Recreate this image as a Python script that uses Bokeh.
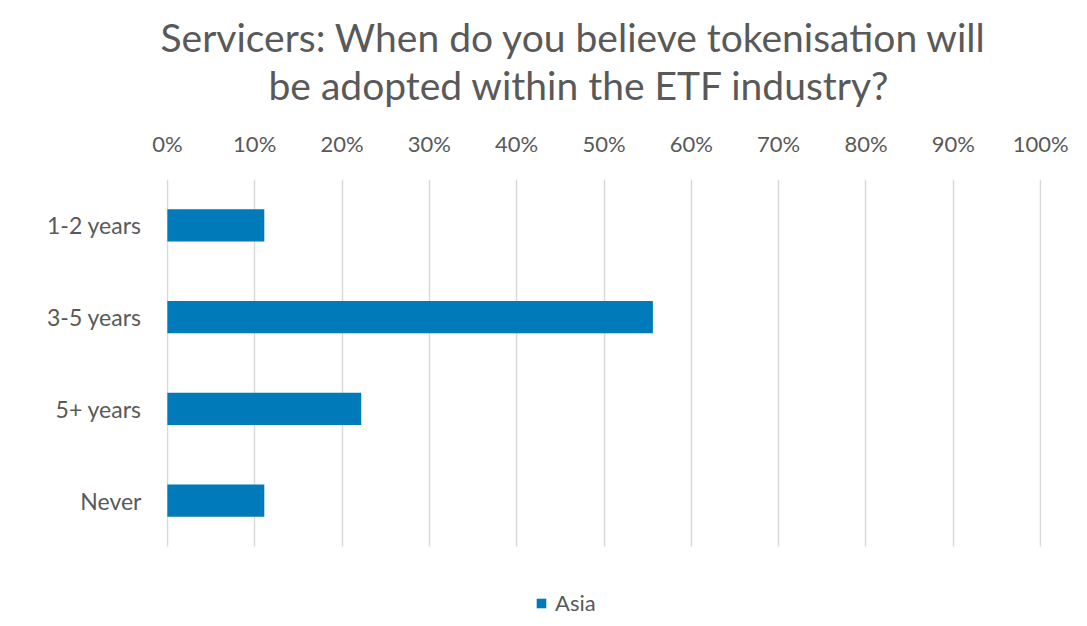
from bokeh.plotting import figure
from bokeh.models import (Range1d, NumeralTickFormatter, FixedTicker, LinearAxis,
                          Title, Legend, LegendItem, ColumnDataSource)
from bokeh.embed import file_html
from bokeh.resources import INLINE

categories = ["1-2 years", "3-5 years", "5+ years", "Never"]
asia = [0.111, 0.556, 0.222, 0.111]
series_name = "Asia"
tick_values = [i / 10 for i in range(11)]
title_lines = ["Servicers: When do you believe tokenisation will",
               "be adopted within the ETF industry?"]

FONT = "Lato"
TXT = "#595959"
BAR = "#007AB8"

pos = list(range(len(categories)))
src = ColumnDataSource(dict(pos=pos, cat=categories, val=asia))

# frame: 179..626 px tall, one category slot = 91.75 px; extra room below for legend
slot_px = 91.75
frame_px = 626 - 179
y_top = -0.5
y_bottom = y_top + frame_px / slot_px

p = figure(width=1087, height=626, output_backend="svg", toolbar_location=None,
           y_range=Range1d(y_bottom, y_top),
           x_range=Range1d(-0.001, 1.001), x_axis_location="above",
           min_border_left=166, min_border_right=46, min_border_top=179,
           min_border_bottom=0, title=None)

r = p.hbar(y="pos", right="val", left=0, height=0.35, source=src,
           fill_color=BAR, line_color=None)

p.outline_line_color = None
p.background_fill_color = "white"
p.border_fill_color = "white"

xa = p.xaxis[0]
xa.ticker = FixedTicker(ticks=tick_values)
xa.formatter = NumeralTickFormatter(format="0%")
xa.axis_line_color = None
xa.major_tick_line_color = None
xa.minor_tick_line_color = None
xa.major_label_text_font = FONT
xa.major_label_text_font_size = "22px"
xa.major_label_text_color = TXT
xa.major_label_standoff = 17

# spacer axis: one white (invisible) tick, no label, gives room under the title
spacer = LinearAxis(ticker=FixedTicker(ticks=[0.5]), axis_line_color=None,
                    major_tick_line_color="white", minor_tick_line_color=None,
                    major_tick_in=0, major_tick_out=19, minor_tick_in=0,
                    minor_tick_out=0, major_label_standoff=0,
                    major_label_overrides={0.5: ""},
                    major_label_text_font_size="0px")
p.add_layout(spacer, "above")

ya = p.yaxis[0]
ya.ticker = FixedTicker(ticks=pos)
ya.major_label_overrides = {i: c for i, c in zip(pos, categories)}
ya.axis_line_color = None
ya.major_tick_line_color = None
ya.minor_tick_line_color = None
ya.major_label_text_font = FONT
ya.major_label_text_font_size = "23px"
ya.major_label_text_color = TXT
ya.major_label_standoff = 19

p.xgrid.ticker = FixedTicker(ticks=tick_values)
p.xgrid.grid_line_color = "#D9D9D9"
p.xgrid.grid_line_width = 1.5
p.ygrid.grid_line_color = None
try:
    p.xgrid.cross_bounds = (-0.5, len(categories) - 0.5)
except Exception:
    p.xgrid.visible = False
    p.segment(x0=tick_values, x1=tick_values, y0=[-0.5] * len(tick_values),
              y1=[len(categories) - 0.5] * len(tick_values),
              line_color="#D9D9D9", line_width=1.5, level="underlay")

t2 = Title(text=title_lines[1], align="left", offset=102, text_font=FONT,
           text_font_size="39px", text_color=TXT, text_font_style="normal",
           standoff=0)
t1 = Title(text=title_lines[0], align="left", offset=-6, text_font=FONT,
           text_font_size="39px", text_color=TXT, text_font_style="normal", standoff=0)
p.add_layout(t2, "above")
p.add_layout(t1, "above")

legend = Legend(items=[LegendItem(label=series_name, renderers=[r])],
                location=(369, 10), orientation="horizontal",
                label_text_font=FONT, label_text_font_size="22px",
                label_text_color=TXT, glyph_width=12, glyph_height=12,
                padding=0, margin=0, label_standoff=8,
                border_line_color=None, background_fill_alpha=0)
p.add_layout(legend, "center")

open("out.html", "w").write(file_html(p, INLINE))
